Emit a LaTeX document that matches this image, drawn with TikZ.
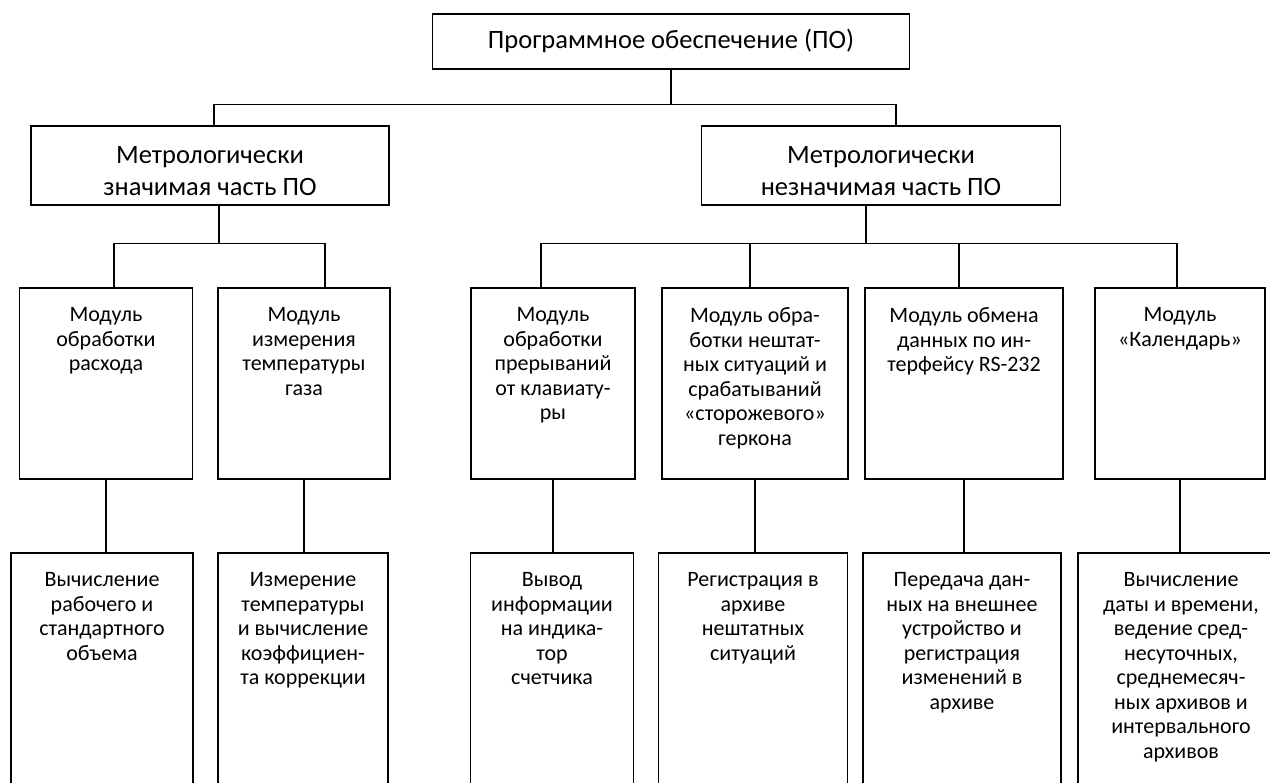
\documentclass[tikz,border=0pt]{standalone}
\usepackage{fontspec}
\setmainfont{Carlito}

\begin{document}
\begin{tikzpicture}[x=1pt, y=-1pt, line width=1.6pt,
    box/.style={draw, anchor=north, inner sep=0pt, minimum width=#1},
    big/.style={font=\fontsize{26.5}{32}\selectfont},
    small/.style={font=\fontsize{22}{24.5}\selectfont},
    lbl/.style={align=center, anchor=north, inner sep=0pt},
    mid/.style={box=#1, minimum height=79},
    mod/.style={box=#1, minimum height=191},
    res/.style={box=#1, minimum height=260},
    btxt/.style={label={[lbl, big, yshift=-21]north:#1}},
    stxt/.style={label={[lbl, small, yshift=-20]north:#1}}]
\useasboundingbox (0,0) rectangle (1270,783);
\clip (0,0) rectangle (1270,783);
\node[box=477, minimum height=55, big] (po) at (671,13) {Программное обеспечение (ПО)};
\node[mid=358, btxt={Метрологически\\значимая часть ПО}] (mz) at (210,125) {};
\node[mid=359, btxt={Метрологически\\незначимая часть ПО}] (mn) at (881,125) {};
\node[mod=173, stxt={Модуль\\обработки\\расхода}] (m1) at (106,287) {};
\node[mod=172, stxt={Модуль\\измерения\\температуры\\газа}] (m2) at (304,287) {};
\node[mod=164, stxt={Модуль\\обработки\\прерываний\\от клавиату-\\ры}] (m3) at (553,287) {};
\node[mod=186, stxt={Модуль обра-\\ботки нештат-\\ных ситуаций и\\срабатываний\\«сторожевого»\\геркона}] (m4) at (755,287) {};
\node[mod=198, stxt={Модуль обмена\\данных по ин-\\терфейсу RS-232}] (m5) at (964,287) {};
\node[mod=170, stxt={Модуль\\«Календарь»}] (m6) at (1180,287) {};
\node[res=182, stxt={Вычисление\\рабочего и\\стандартного\\объема}] (b1) at (102,552) {};
\node[res=170, stxt={Измерение\\температуры\\и вычисление\\коэффициен-\\та коррекции}] (b2) at (303,552) {};
\node[res=163, stxt={Вывод\\информации\\на индика-\\тор\\счетчика}] (b3) at (552,552) {};
\node[res=189, stxt={Регистрация в\\архиве\\нештатных\\ситуаций}] (b4) at (753,552) {};
\node[res=198, stxt={Передача дан-\\ных на внешнее\\устройство и\\регистрация\\изменений в\\архиве}] (b5) at (962,552) {};
\node[res=206, stxt={Вычисление\\даты и времени,\\ведение сред-\\несуточных,\\среднемесяч-\\ных архивов и\\интервального\\архивов}] (b6) at (1181,552) {};
\draw (po.south) -- ++(0,35) -| ([xshift=4]mz.north);
\draw (po.south) -- ++(0,35) -| ([xshift=15]mn.north);
\foreach \m/\s in {m1/8, m2/21}
  \draw ([xshift=9]mz.south) -- ++(0,38) -| ([xshift=\s]\m.north);
\foreach \m/\s in {m3/-12, m4/-5, m5/-5, m6/-3}
  \draw ([xshift=-15]mn.south) -- ++(0,38) -| ([xshift=\s]\m.north);
\foreach \i in {1,...,6}
  \draw (m\i.south) -- (m\i.south |- b\i.north);
\end{tikzpicture}
\end{document}
